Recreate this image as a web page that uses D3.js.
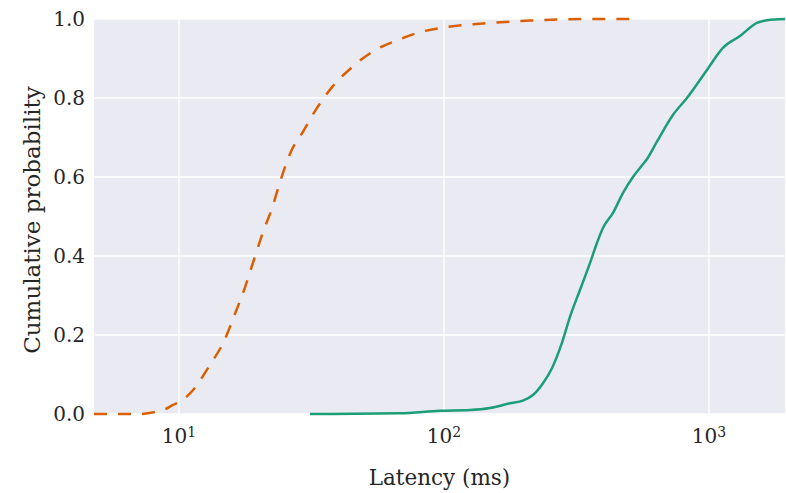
<!DOCTYPE html>
<html>
<head>
<meta charset="utf-8">
<script src="https://cdn.jsdelivr.net/npm/d3@7"></script>
<style>
  body { margin: 0; background: #fff; }
  text { font-family: "DejaVu Serif", "Liberation Serif", serif; fill: #262626; }
</style>
</head>
<body>
<div id="chart"></div>
<script>
/* CDF of latency, two systems */

// orange dashed series: latency (ms) and cumulative probability
const orangeLatency = [4.78, 7.13, 8.12, 8.86, 9.49, 10, 11.29, 12.86, 14.92, 16.41, 17.74, 19.18, 20.74, 22.43, 24.0, 26.5, 29.4, 33.2, 38.1, 45.0, 54.0, 67.1, 82.6, 103.5, 136.8, 211, 388, 549];
const orangeProb    = [0, 0, 0.005, 0.012, 0.023, 0.03, 0.06, 0.116, 0.19, 0.26, 0.32, 0.39, 0.46, 0.52, 0.585, 0.665, 0.715, 0.775, 0.83, 0.878, 0.918, 0.947, 0.968, 0.98, 0.988, 0.996, 1.0, 1.0];

// green solid series
const greenLatency = [31.2, 68.2, 96.6, 125.3, 149.1, 177.5, 198.6, 216.7, 236.4, 255.6, 278.7, 298.9, 326, 355.6, 377.8, 398, 434.3, 473.8, 516.8, 549, 583, 637, 731, 826, 983, 1129, 1309, 1517, 1655, 1936];
const greenProb    = [0, 0.002, 0.008, 0.01, 0.015, 0.027, 0.034, 0.048, 0.078, 0.116, 0.18, 0.246, 0.314, 0.382, 0.433, 0.471, 0.509, 0.56, 0.6, 0.623, 0.645, 0.69, 0.757, 0.8, 0.871, 0.927, 0.957, 0.99, 0.997, 1.0];

const yTicks = [0, 0.2, 0.4, 0.6, 0.8, 1.0];
const xTicks = [10, 100, 1000];
const xTickExp = ["1", "2", "3"];

const width = 786, height = 493,
      margin = ({ top: 19, right: 1, bottom: 79, left: 94 });

let svg = d3.select("#chart")
    .append("svg")
    .attr("width", width)
    .attr("height", height);

let x = d3.scaleLog()
    .domain([4.78, 1936])
    .range([margin.left, width - margin.right]);

let y = d3.scaleLinear()
    .domain([0, 1])
    .range([height - margin.bottom, margin.top]);

// plot background
svg.append("rect")
    .attr("x", margin.left)
    .attr("y", margin.top)
    .attr("width", width - margin.left - margin.right)
    .attr("height", height - margin.top - margin.bottom)
    .attr("fill", "#eaeaf2");

// grid lines
svg.append("g")
    .selectAll("line")
    .data(yTicks)
    .join("line")
    .attr("x1", margin.left)
    .attr("x2", width - margin.right)
    .attr("y1", d => y(d))
    .attr("y2", d => y(d))
    .attr("stroke", "#fff")
    .attr("stroke-width", 1.4);

svg.append("g")
    .selectAll("line")
    .data(xTicks)
    .join("line")
    .attr("x1", d => x(d))
    .attr("x2", d => x(d))
    .attr("y1", margin.top)
    .attr("y2", height - margin.bottom)
    .attr("stroke", "#fff")
    .attr("stroke-width", 1.4);

// y tick labels
svg.append("g")
    .selectAll("text")
    .data(yTicks)
    .join("text")
    .attr("x", margin.left - 9)
    .attr("y", d => y(d))
    .attr("dy", "0.36em")
    .attr("text-anchor", "end")
    .style("font-size", "20px")
    .text(d => d3.format(".1f")(d));

// x tick labels with superscript exponent
let xt = svg.append("g")
    .selectAll("text")
    .data(xTicks)
    .join("text")
    .attr("x", d => x(d))
    .attr("y", height - margin.bottom + 29)
    .attr("text-anchor", "middle")
    .style("font-size", "20px");

xt.append("tspan").text("10");
xt.append("tspan")
    .attr("dy", "-0.45em")
    .style("font-size", "14px")
    .text((d, i) => xTickExp[i]);

svg.append("clipPath").attr("id", "clip")
    .append("rect")
    .attr("x", margin.left)
    .attr("y", margin.top - 2)
    .attr("width", width - margin.left - margin.right)
    .attr("height", height - margin.top - margin.bottom + 4);

let line = d3.line()
    .x(d => x(d[0]))
    .y(d => y(d[1]))
    .curve(d3.curveMonotoneX);

svg.append("path")
    .datum(orangeLatency.map((v, i) => [v, orangeProb[i]]))
    .attr("clip-path", "url(#clip)")
    .attr("d", line)
    .attr("fill", "none")
    .attr("stroke", "#d95f02")
    .attr("stroke-width", 2.5)
    .attr("stroke-dasharray", "13,11");

svg.append("path")
    .datum(greenLatency.map((v, i) => [v, greenProb[i]]))
    .attr("clip-path", "url(#clip)")
    .attr("d", line)
    .attr("fill", "none")
    .attr("stroke", "#1b9e77")
    .attr("stroke-width", 2.5);

// axis titles
svg.append("text")
    .attr("x", (margin.left + width - margin.right) / 2)
    .attr("y", height - 8)
    .attr("text-anchor", "middle")
    .style("font-size", "21.5px")
    .text("Latency (ms)");

svg.append("text")
    .attr("transform", `translate(40,${(82 + 358) / 2}) rotate(-90)`)
    .attr("text-anchor", "middle")
    .style("font-size", "23px")
    .text("Cumulative probability");
</script>
</body>
</html>
